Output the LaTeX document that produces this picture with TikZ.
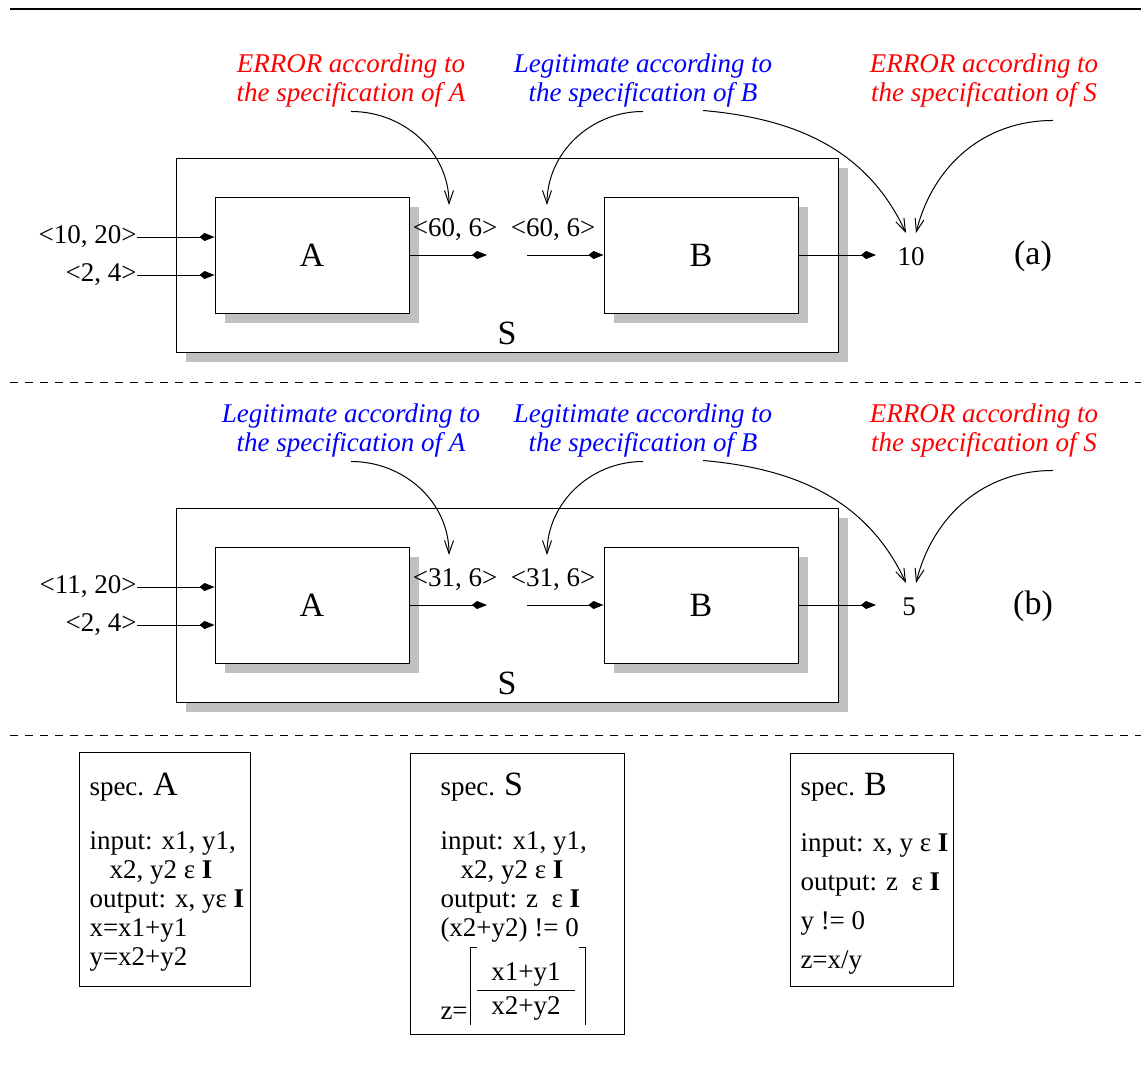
\documentclass[tikz,border=0pt]{standalone}
\usepackage{fontspec}
\setmainfont{Liberation Serif}
\usetikzlibrary{arrows.meta,shadows}

\definecolor{shadowgray}{RGB}{192,192,192}
\newcommand{\valsize}{\fontsize{27}{29}\selectfont}
\newcommand{\bigsize}{\fontsize{34}{34}\selectfont}

\tikzset{
  block/.style={draw, fill=white, inner sep=0pt, font=\bigsize,
    minimum width=194pt, minimum height=116pt,
    drop shadow={shadow xshift=10pt, shadow yshift=-10pt, fill=shadowgray, opacity=1}},
  system/.style={draw, fill=white, inner sep=0pt,
    minimum width=662pt, minimum height=194pt,
    drop shadow={shadow xshift=10pt, shadow yshift=-10pt, fill=shadowgray, opacity=1}},
  valtext/.style={inner sep=0pt, font=\valsize},
  bigtext/.style={inner sep=0pt, font=\bigsize},
  remark/.style={inner sep=0pt, align=center, anchor=north, font=\fontsize{27}{28.5}\selectfont\itshape},
  port/.style={-{Kite[length=15pt,width=8pt,inset=5pt]}},
  pointer/.style={-{Straight Barb[length=13pt,width=9pt]}},
  divider/.style={dash pattern=on 8pt off 7pt},
  spec/.style={draw, inner sep=0pt},
  spectext/.style={inner sep=0pt, align=left, anchor=north west, font=\valsize}
}

\begin{document}
\begin{tikzpicture}[x=1pt, y=1pt, line width=1pt]
    \useasboundingbox (0,0) rectangle (1141,-1071);

    \draw[line width=2.7pt] (10,-9) -- (1141,-9);

    % (a)
    \node[system] (S1) at (507,-255) {};
    \node[bigtext] (lblS1) at (507,-333) {S};
    \node[block] (A1) at (312,-255) {A};
    \node[block] (B1) at (701,-255) {B};

    \node[valtext, anchor=east] (in11) at (137,-237) {<10, 20>};
    \node[valtext, anchor=east] (in12) at (137,-275) {<2, 4>};
    \draw[port] (in11.east) -- (in11.east -| A1.west);
    \draw[port] (in12.east) -- (in12.east -| A1.west);

    \node[valtext] (outA1) at (455,-229.5) {<60, 6>};
    \node[valtext] (inB1) at (553,-229.5) {<60, 6>};
    \coordinate (pA1) at (487,-255);
    \coordinate (qB1) at (527,-255);
    \draw[port] (A1.east) -- (pA1);
    \draw[port] (qB1) -- (B1.west);

    \node[valtext] (res1) at (911,-257) {10};
    \coordinate (pB1) at (876,-255);
    \draw[port] (B1.east) -- (pB1);
    \node[bigtext] (tag1) at (1033,-256) {(a)};

    \node[remark, red] (errA1) at (351,-53.5) {ERROR according to\\the specification of A};
    \node[remark, blue] (legB1) at (643,-53.5) {Legitimate according to\\the specification of B};
    \node[remark, red] (errS1) at (984,-53.5) {ERROR according to\\the specification of S};

    \coordinate (tA1) at (449,-205);
    \coordinate (tB1) at (547,-205);
    \coordinate (tR1) at (906,-233);
    \coordinate (tS1) at (916,-233);
    \draw[pointer] ([yshift=-4pt]errA1.south) to[out=0, in=90] (tA1);
    \draw[pointer] ([yshift=-4pt]legB1.south) to[out=180, in=90] (tB1);
    \draw[pointer] ([shift={(60,-3)}]legB1.south) to[out=-5, in=115] (tR1);
    \draw[pointer] ([shift={(69,-13)}]errS1.south) to[out=180, in=76] (tS1);

    \draw[divider] (10,-382) -- (1141,-382);

    % (b)
    \node[system] (S2) at (507,-605) {};
    \node[bigtext] (lblS2) at (507,-683) {S};
    \node[block] (A2) at (312,-605) {A};
    \node[block] (B2) at (701,-605) {B};

    \node[valtext, anchor=east] (in21) at (137,-587) {<11, 20>};
    \node[valtext, anchor=east] (in22) at (137,-625) {<2, 4>};
    \draw[port] (in21.east) -- (in21.east -| A2.west);
    \draw[port] (in22.east) -- (in22.east -| A2.west);

    \node[valtext] (outA2) at (455,-579.5) {<31, 6>};
    \node[valtext] (inB2) at (553,-579.5) {<31, 6>};
    \coordinate (pA2) at (487,-605);
    \coordinate (qB2) at (527,-605);
    \draw[port] (A2.east) -- (pA2);
    \draw[port] (qB2) -- (B2.west);

    \node[valtext] (res2) at (909,-607) {5};
    \coordinate (pB2) at (876,-605);
    \draw[port] (B2.east) -- (pB2);
    \node[bigtext] (tag2) at (1033,-606) {(b)};

    \node[remark, blue] (legA2) at (351,-403.5) {Legitimate according to\\the specification of A};
    \node[remark, blue] (legB2) at (643,-403.5) {Legitimate according to\\the specification of B};
    \node[remark, red] (errS2) at (984,-403.5) {ERROR according to\\the specification of S};

    \coordinate (tA2) at (449,-555);
    \coordinate (tB2) at (547,-555);
    \coordinate (tR2) at (906,-583);
    \coordinate (tS2) at (916,-583);
    \draw[pointer] ([yshift=-4pt]legA2.south) to[out=0, in=90] (tA2);
    \draw[pointer] ([yshift=-4pt]legB2.south) to[out=180, in=90] (tB2);
    \draw[pointer] ([shift={(60,-3)}]legB2.south) to[out=-5, in=115] (tR2);
    \draw[pointer] ([shift={(69,-13)}]errS2.south) to[out=180, in=76] (tS2);

    \draw[divider] (10,-735) -- (1141,-735);

    % specifications
    \node[spec, minimum width=171pt, minimum height=234pt] (specA) at (164.5,-869) {};
    \node[spectext] (textA) at (89,-772.7) {spec. {\bigsize A}\\[25pt]input: x1, y1,\\\hspace*{20pt}x2, y2 ε \textbf{I}\\output: x, yε \textbf{I}\\x=x1+y1\\y=x2+y2};

    \node[spec, minimum width=214pt, minimum height=281pt] (specS) at (517,-893.5) {};
    \node[spectext] (textS) at (440,-772.7) {spec. {\bigsize S}\\[25pt]input: x1, y1,\\\hspace*{20pt}x2, y2 ε \textbf{I}\\output: z ~ε \textbf{I}\\(x2+y2) != 0};
    \node[valtext, anchor=base west] (zS) at (440,-1019) {z=};
    \node[valtext, anchor=base] (numS) at (526,-980) {x1+y1};
    \node[valtext, anchor=base] (denS) at (526,-1014) {x2+y2};
    \draw (477,-990) -- (575,-990);
    \draw (477,-947) -- (470.7,-947) -- (470.7,-1025);
    \draw (579,-947) -- (585,-947) -- (585,-1025);

    \node[spec, minimum width=163pt, minimum height=233pt] (specB) at (871.5,-869.5) {};
    \node[spectext, font=\fontsize{27}{39}\selectfont] (textB) at (800,-772.7) {spec. {\bigsize B}\\[17pt]input: x, y ε \textbf{I}\\output: z ~ε \textbf{I}\\y != 0\\z=x/y};
\end{tikzpicture}
\end{document}
